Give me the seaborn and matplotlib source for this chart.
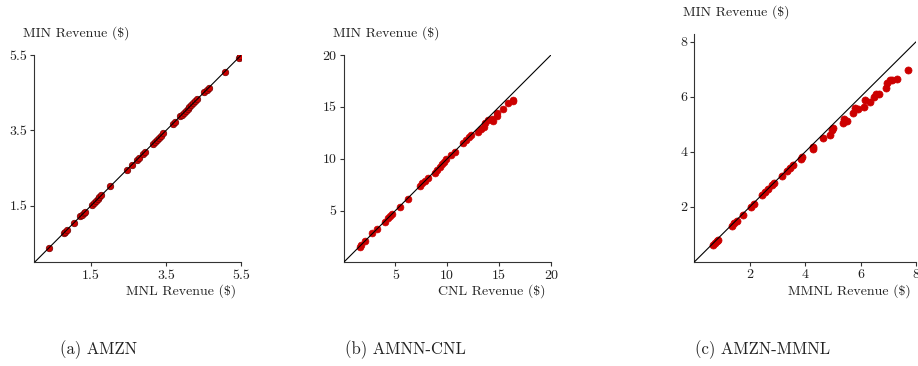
import matplotlib
matplotlib.use("Agg")
import matplotlib.pyplot as plt
import seaborn as sns
import pandas as pd

# Revenue comparison: MIN estimator vs. baseline choice model, per assortment
amzn_mnl = [0.39, 0.78, 0.82, 0.86, 1.06, 1.22, 1.27, 1.31, 1.35, 1.53, 1.58, 1.63,
            1.68, 1.73, 1.78, 2.02, 2.46, 2.59, 2.72, 2.78, 2.88, 2.93, 3.15, 3.20,
            3.25, 3.30, 3.36, 3.42, 3.68, 3.73, 3.87, 3.92, 3.97, 4.02, 4.07, 4.12,
            4.17, 4.22, 4.27, 4.32, 4.52, 4.58, 4.63, 5.06, 5.43, 5.47]
amzn_min = [0.39, 0.78, 0.82, 0.86, 1.06, 1.22, 1.27, 1.31, 1.35, 1.53, 1.58, 1.63,
            1.68, 1.73, 1.78, 2.02, 2.46, 2.59, 2.72, 2.78, 2.88, 2.93, 3.15, 3.20,
            3.25, 3.30, 3.36, 3.42, 3.68, 3.73, 3.87, 3.92, 3.97, 4.02, 4.07, 4.12,
            4.17, 4.22, 4.27, 4.32, 4.52, 4.58, 4.63, 5.06, 5.43, 5.47]

cnl_cnl = [1.56, 1.72, 2.04, 2.78, 3.23, 3.97, 4.30, 4.50, 4.70, 5.42, 6.22, 7.35,
           7.60, 7.85, 8.10, 8.80, 9.00, 9.30, 9.50, 9.70, 9.90, 10.40, 10.70, 11.54,
           11.80, 12.10, 12.30, 12.99, 13.30, 13.50, 13.60, 13.90, 14.28, 14.40, 14.76,
           14.80, 15.40, 15.82, 16.30, 16.37]
cnl_min = [1.54, 1.72, 2.04, 2.83, 3.21, 3.95, 4.28, 4.48, 4.68, 5.39, 6.16, 7.38,
           7.62, 7.86, 8.10, 8.67, 8.95, 9.25, 9.45, 9.65, 9.95, 10.37, 10.69, 11.50,
           11.76, 12.08, 12.30, 12.62, 12.90, 13.10, 13.40, 13.70, 13.81, 13.60, 14.38,
           14.10, 14.77, 15.40, 15.60, 15.67]

mmnl_mmnl = [0.68, 0.74, 0.80, 0.86, 1.34, 1.43, 1.52, 1.74, 2.03, 2.15, 2.43, 2.55,
             2.67, 2.79, 2.88, 3.15, 3.35, 3.45, 3.55, 3.84, 3.87, 4.27, 4.27, 4.63,
             4.89, 4.95, 5.00, 5.37, 5.40, 5.50, 5.71, 5.79, 5.90, 6.13, 6.15, 6.33,
             6.48, 6.55, 6.67, 6.90, 6.95, 7.07, 7.12, 7.33, 7.70]
mmnl_min = [0.61, 0.69, 0.77, 0.81, 1.30, 1.40, 1.50, 1.70, 2.00, 2.12, 2.42, 2.54,
            2.66, 2.78, 2.85, 3.12, 3.32, 3.42, 3.52, 3.73, 3.80, 4.16, 4.10, 4.49,
            4.61, 4.79, 4.85, 5.06, 5.20, 5.12, 5.42, 5.58, 5.55, 5.62, 5.88, 5.80,
            6.00, 6.10, 6.10, 6.31, 6.49, 6.60, 6.63, 6.65, 6.97]

panels = [
    dict(x=amzn_mnl, y=amzn_min, xlabel="MNL Revenue (\\$)", lim=(0, 5.5), ytop=5.5,
         ticks=[1.5, 3.5, 5.5], ticklabels=["1.5", "3.5", "5.5"], caption="(a) AMZN",
         rect=[0.0374, 0.2828, 0.2255, 0.567], edge="#6e0000", size=22),
    dict(x=cnl_cnl, y=cnl_min, xlabel="CNL Revenue (\\$)", lim=(0, 20), ytop=20,
         ticks=[5, 10, 15, 20], ticklabels=["5", "10", "15", "20"], caption="(b) AMNN-CNL",
         rect=[0.3742, 0.2828, 0.2260, 0.567], edge="#cc0000", size=24),
    dict(x=mmnl_mmnl, y=mmnl_min, xlabel="MMNL Revenue (\\$)", lim=(0, 8), ytop=8.28,
         ticks=[2, 4, 6, 8], ticklabels=["2", "4", "6", "8"], caption="(c) AMZN-MMNL",
         rect=[0.7565, 0.2847, 0.2413, 0.6220], edge="#cc0000", size=26),
]
caption_x = [99, 405, 763]

sns.set_theme(style="ticks")
plt.rcParams["font.family"] = ["cmr10", "DejaVu Serif"]
plt.rcParams["axes.formatter.use_mathtext"] = True
plt.rcParams["mathtext.fontset"] = "cm"

fig = plt.figure(figsize=(9.18, 3.66), dpi=100)
spine_col = "#333333"

for p, cx in zip(panels, caption_x):
    ax = fig.add_axes(p["rect"])
    df = pd.DataFrame({"base": p["x"], "min": p["y"]})
    sns.scatterplot(data=df, x="base", y="min", ax=ax, color="#cc0000",
                    edgecolor=p["edge"], linewidth=0.5, s=p["size"], zorder=2)
    ax.axline((0, 0), slope=1, color="black", lw=0.8, zorder=3)
    ax.set_xlim(*p["lim"])
    ax.set_ylim(p["lim"][0], p["ytop"])
    ax.set_xticks(p["ticks"])
    ax.set_xticklabels(p["ticklabels"])
    ax.set_yticks(p["ticks"])
    ax.set_yticklabels(p["ticklabels"])
    ax.set_xlabel("")
    ax.set_ylabel("")
    sns.despine(ax=ax)
    for s in ("left", "bottom"):
        ax.spines[s].set_color(spine_col)
        ax.spines[s].set_linewidth(0.8)
    ax.tick_params(axis="both", length=3, width=0.8, color=spine_col,
                   labelsize=10, labelcolor="#222222", pad=2)
    ax.annotate("MIN Revenue (\\$)", xy=(0, 1), xycoords="axes fraction",
                xytext=(-11, 22), textcoords="offset pixels", ha="left", va="center",
                fontsize=10, color="#222222")
    ax.annotate(p["xlabel"], xy=(1, 0), xycoords="axes fraction",
                xytext=(-5, -29), textcoords="offset pixels", ha="right", va="center",
                fontsize=10, color="#222222")
    fig.text(cx / 918, 1 - 350 / 366, p["caption"], ha="center", va="center",
             fontsize=12, color="#222222")

fig.savefig("out.png", dpi=100)
